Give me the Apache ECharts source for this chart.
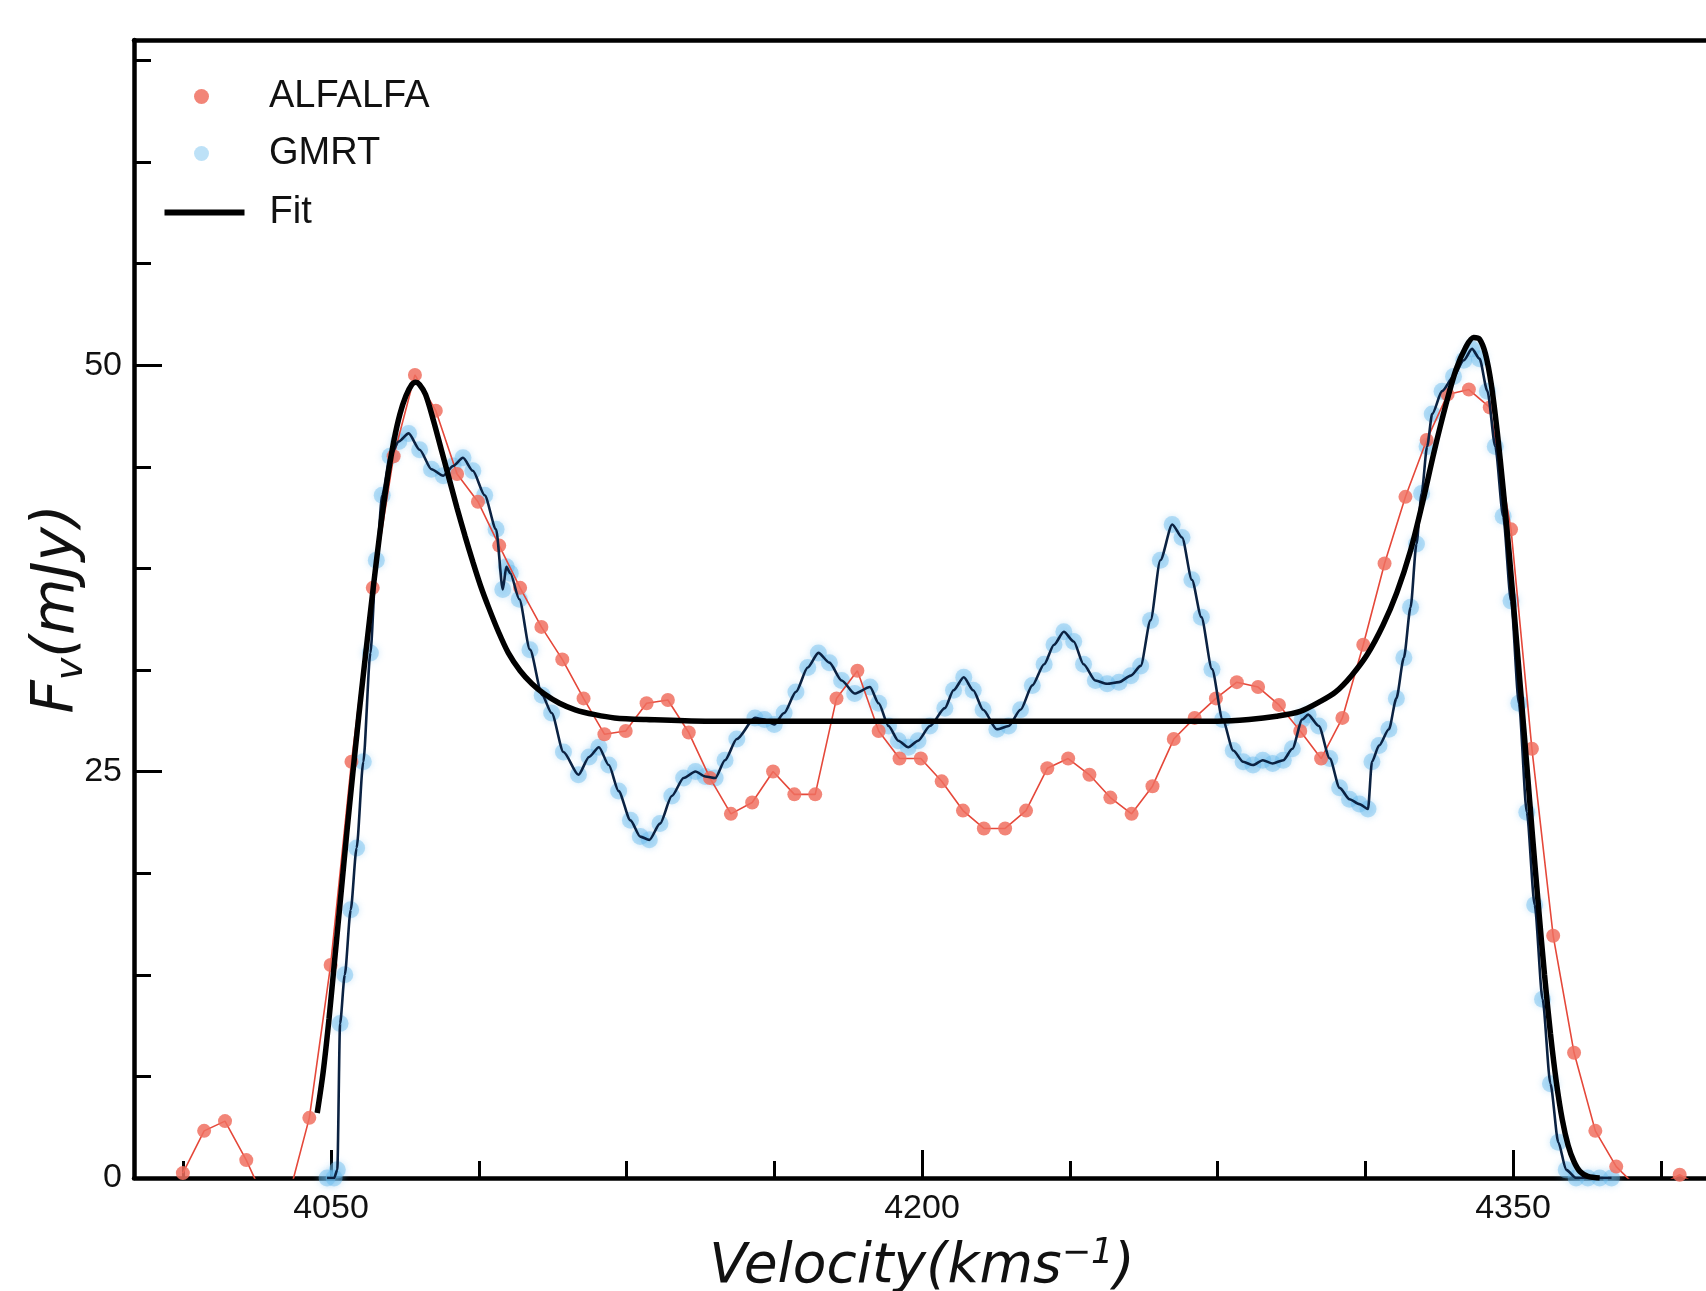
<!DOCTYPE html>
<html>
<head>
<meta charset="utf-8">
<script src="https://cdn.jsdelivr.net/npm/echarts@6/dist/echarts.min.js"></script>
<style>
html,body{margin:0;padding:0;background:#fff;overflow:hidden}
#c{width:1706px;height:1291px}
</style>
</head>
<body>
<div id="c"></div>
<script>
// ---- ALFALFA spectrum (km/s, mJy) ----
const alfalfaVel = [4012.4, 4017.8, 4023.1, 4028.5, 4033.8, 4039.2, 4044.5, 4049.9, 4055.2, 4060.6,
  4065.9, 4071.3, 4076.6, 4082.0, 4087.3, 4092.7, 4098.0, 4103.4, 4108.7, 4114.1,
  4119.4, 4124.8, 4130.1, 4135.5, 4140.8, 4146.2, 4151.5, 4156.9, 4162.2, 4167.6,
  4172.9, 4178.3, 4183.6, 4189.0, 4194.3, 4199.7, 4205.0, 4210.4, 4215.7, 4221.1,
  4226.4, 4231.8, 4237.1, 4242.5, 4247.8, 4253.2, 4258.5, 4263.9, 4269.2, 4274.6,
  4279.9, 4285.3, 4290.6, 4296.0, 4301.3, 4306.7, 4312.0, 4317.4, 4322.7, 4328.1,
  4333.4, 4338.8, 4344.1, 4349.5, 4354.8, 4360.2, 4365.5, 4370.9, 4376.2, 4381.6,
  4386.9, 4392.3, 4397.6];
const alfalfaFlux = [0.3, 2.9, 3.5, 1.1, -1.7, -1.2, 3.7, 13.1, 25.6, 36.3,
  44.4, 49.4, 47.2, 43.3, 41.6, 38.9, 36.3, 33.9, 31.9, 29.5,
  27.3, 27.5, 29.2, 29.4, 27.4, 24.6, 22.4, 23.1, 25.0, 23.6,
  23.6, 29.5, 31.2, 27.5, 25.8, 25.8, 24.4, 22.6, 21.5, 21.5,
  22.6, 25.2, 25.8, 24.8, 23.4, 22.4, 24.1, 27.0, 28.3, 29.5,
  30.5, 30.2, 29.1, 27.5, 25.8, 28.3, 32.8, 37.8, 41.9, 45.4,
  48.2, 48.5, 47.4, 39.9, 26.4, 14.9, 7.7, 2.9, 0.7, -0.6,
  -0.5, 0.2, -0.5];

// ---- GMRT spectrum ----
const gmrtVel = [4049.0, 4050.8, 4051.6, 4052.3, 4053.5, 4055.0, 4056.5, 4058.2, 4060.0, 4061.5,
  4063.0, 4065.0, 4067.2, 4069.7, 4072.5, 4075.5, 4078.5, 4081.0, 4083.5, 4086.0,
  4089.0, 4091.9, 4093.6, 4094.5, 4095.5, 4097.8, 4100.5, 4103.6, 4106.0, 4109.0,
  4112.8, 4115.5, 4118.0, 4120.5, 4123.0, 4126.0, 4128.5, 4130.8, 4133.5, 4136.5,
  4139.5, 4142.5, 4145.0, 4147.5, 4150.0, 4153.0, 4157.6, 4160.0, 4162.5, 4165.0,
  4168.0, 4171.0, 4173.7, 4176.5, 4179.6, 4182.9, 4186.8, 4189.0, 4191.5, 4194.0,
  4196.5, 4199.0, 4202.0, 4205.8, 4208.0, 4210.6, 4213.0, 4215.5, 4219.0, 4222.0,
  4225.0, 4228.0, 4231.0, 4233.5, 4236.0, 4238.5, 4241.0, 4244.0, 4247.0, 4250.0,
  4253.0, 4255.5, 4258.0, 4260.5, 4263.5, 4266.0, 4268.5, 4270.9, 4273.6, 4276.3,
  4279.0, 4281.5, 4284.0, 4286.5, 4289.0, 4291.7, 4294.0, 4296.5, 4298.0, 4300.7,
  4303.5, 4306.0, 4308.5, 4311.0, 4313.2, 4314.2, 4316.0, 4318.5, 4320.4, 4322.3,
  4324.0, 4325.5, 4326.8, 4328.2, 4329.5, 4332.0, 4334.9, 4337.5, 4339.6, 4341.5,
  4343.5, 4345.5, 4347.5, 4349.5, 4351.5, 4353.5, 4355.5, 4357.5, 4359.5, 4361.5,
  4363.5, 4366.0, 4369.0, 4372.0, 4375.0];
const gmrtFlux = [0, 0, 0.5, 9.5, 12.5, 16.5, 20.3, 25.6, 32.3, 38.0,
  42.0, 44.4, 45.3, 45.8, 44.8, 43.6, 43.2, 43.8, 44.3, 43.5,
  42.0, 39.9, 36.2, 37.6, 37.2, 35.6, 32.5, 29.7, 28.6, 26.2,
  24.8, 25.9, 26.5, 25.4, 23.8, 22.0, 21.0, 20.8, 21.8, 23.5,
  24.6, 25.0, 24.7, 24.6, 25.7, 27.0, 28.3, 28.2, 27.9, 28.6,
  29.9, 31.4, 32.3, 31.7, 30.6, 29.8, 30.2, 29.2, 27.8, 26.9,
  26.5, 26.9, 27.8, 28.9, 30.0, 30.8, 30.0, 28.8, 27.6, 27.8,
  28.8, 30.3, 31.6, 32.8, 33.6, 33.0, 31.6, 30.6, 30.4, 30.5,
  30.9, 31.5, 34.3, 38.0, 40.2, 39.4, 36.8, 34.5, 31.3, 28.2,
  26.3, 25.6, 25.4, 25.7, 25.5, 25.7, 26.4, 28.2, 28.5, 27.8,
  25.8, 24.0, 23.3, 23.0, 22.7, 25.6, 26.6, 27.6, 29.5, 32.0,
  35.1, 39.0, 42.1, 45.0, 47.0, 48.4, 49.3, 50.3, 51.0, 50.4,
  48.4, 45.0, 40.7, 35.5, 29.2, 22.5, 16.8, 11.0, 5.8, 2.2,
  0.5, 0, 0, 0, 0];

// ---- Fit profile ----
const fitVel = [4046.5, 4048.0, 4049.5, 4051.0, 4052.5, 4054.0, 4055.5, 4057.0, 4058.5, 4060.0,
  4061.5, 4063.0, 4064.5, 4066.0, 4067.5, 4069.0, 4070.5, 4071.5, 4072.5, 4074.0,
  4076.0, 4078.0, 4080.0, 4082.0, 4084.0, 4086.0, 4088.0, 4090.0, 4092.5, 4095.0,
  4098.0, 4101.0, 4104.0, 4108.0, 4112.0, 4117.0, 4122.0, 4130.0, 4145.0,
  4200.0, 4260.0, 4275.0, 4283.0, 4290.0, 4296.0, 4301.0, 4305.0, 4309.0, 4313.0,
  4317.0, 4320.5, 4324.0, 4327.0, 4330.0, 4333.0, 4335.5, 4338.0, 4340.0, 4341.5,
  4343.0, 4344.5, 4346.0, 4347.5, 4349.0, 4350.5, 4352.0, 4353.5, 4355.0, 4356.5,
  4358.0, 4359.5, 4361.0, 4362.5, 4364.0, 4365.5, 4367.0, 4369.0, 4372.0];
const fitFlux = [4.0, 6.5, 9.8, 13.6, 17.4, 21.2, 24.8, 28.3, 31.6, 34.8,
  37.9, 40.8, 43.3, 45.4, 47.0, 48.1, 48.8, 48.95, 48.8, 48.2,
  46.6, 44.8, 43.0, 41.2, 39.5, 37.9, 36.4, 35.1, 33.6, 32.3,
  31.2, 30.4, 29.8, 29.2, 28.8, 28.5, 28.3, 28.2, 28.1,
  28.1, 28.1, 28.1, 28.2, 28.4, 28.7, 29.3, 29.9, 30.9, 32.2,
  34.0, 36.0, 38.6, 41.5, 44.7, 47.6, 49.7, 51.1, 51.7, 51.6,
  50.7, 48.8, 45.9, 42.4, 38.5, 34.2, 29.8, 25.4, 20.9, 16.6,
  12.5, 8.9, 5.9, 3.6, 2.0, 1.0, 0.4, 0.1, 0.0];

// ---- ticks ----
const xMajorTicks = [4050, 4200, 4350];
const xMinorTicks = [4012.5, 4087.5, 4125, 4162.5, 4237.5, 4275, 4312.5, 4387.5];
const yMajorTicks = [0, 25, 50];
const yMinorTicks = [6.25, 12.5, 18.75, 31.25, 37.5, 43.75, 56.25, 62.5, 68.75];

const zip = (a, b) => a.map((v, i) => [v, b[i]]);
const tickFont = 'Liberation Sans, Arial, sans-serif';
const titleFont = 'DejaVu Sans';
const axisColor = '#000';
const plain = (v) => String(v);

const chart = echarts.init(document.getElementById('c'), null, {renderer: 'canvas', width: 1706, height: 1291});

const baseX = {type: 'value', min: 4000, max: 4400, gridIndex: 0, splitLine: {show: false}};
const baseY = {type: 'value', min: 0, max: 70, gridIndex: 0, splitLine: {show: false}};
const legendText = {fontFamily: tickFont, fontSize: 38, color: '#111'};

const option = {
  animation: false,
  backgroundColor: '#fff',
  grid: {left: 134, top: 40, width: 1576, height: 1138, containLabel: false, outerBoundsMode: 'none'},
  legend: [
    {
      left: 189, top: 72.5, orient: 'vertical', itemWidth: 15, itemHeight: 15, itemGap: 19,
      selectedMode: false,
      data: [{name: 'ALFALFA', icon: 'circle'}, {name: 'GMRT', icon: 'circle'}],
      formatter: (name) => '{g|}' + name,
      textStyle: Object.assign({rich: {g: {width: 55}}}, legendText)
    },
    {
      left: 159.5, top: 188.5, orient: 'vertical', itemWidth: 80, itemHeight: 6,
      selectedMode: false,
      data: [{name: 'Fit', icon: 'rect'}],
      formatter: (name) => '{g|}' + name,
      textStyle: Object.assign({rich: {g: {width: 20}}}, legendText)
    }
  ],
  xAxis: [
    Object.assign({}, baseX, {
      position: 'bottom',
      axisLine: {show: true, onZero: false, lineStyle: {color: axisColor, width: 4.5}},
      axisTick: {show: true, inside: true, length: 28, customValues: xMajorTicks, lineStyle: {color: axisColor, width: 3}},
      axisLabel: {show: true, customValues: xMajorTicks, formatter: plain, margin: 14, fontSize: 34, fontFamily: tickFont, color: '#111'},
      name: '{i|Velocity(kms}{s|\u22121}{i|)}',
      nameLocation: 'middle', nameGap: 58,
      nameTextStyle: {
        rich: {
          i: {fontFamily: titleFont, fontStyle: 'italic', fontSize: 55, color: '#111', lineHeight: 64},
          s: {fontFamily: titleFont, fontStyle: 'italic', fontSize: 35, color: '#111', lineHeight: 40, verticalAlign: 'top'}
        }
      }
    }),
    Object.assign({}, baseX, {
      position: 'bottom',
      axisLine: {show: false},
      axisTick: {show: true, inside: true, length: 17, customValues: xMinorTicks, lineStyle: {color: axisColor, width: 3}},
      axisLabel: {show: false}
    }),
    Object.assign({}, baseX, {
      position: 'top',
      axisLine: {show: true, onZero: false, lineStyle: {color: axisColor, width: 4.5}},
      axisTick: {show: false},
      axisLabel: {show: false}
    })
  ],
  yAxis: [
    Object.assign({}, baseY, {
      position: 'left',
      axisLine: {show: true, onZero: false, lineStyle: {color: axisColor, width: 4.5}},
      axisTick: {show: true, inside: true, length: 28, customValues: yMajorTicks, lineStyle: {color: axisColor, width: 3}},
      axisLabel: {show: true, customValues: yMajorTicks, formatter: plain, margin: 12, fontSize: 34, fontFamily: tickFont, color: '#111'},
      name: '{i|F}{b|v}{i|(mJy)}',
      nameLocation: 'middle', nameGap: 43, nameMoveOverlap: false,
      nameTextStyle: {
        rich: {
          i: {fontFamily: titleFont, fontStyle: 'italic', fontSize: 58, color: '#111', lineHeight: 66},
          b: {fontFamily: titleFont, fontStyle: 'italic', fontSize: 38, color: '#111', lineHeight: 40, verticalAlign: 'bottom'}
        }
      }
    }),
    Object.assign({}, baseY, {
      position: 'left',
      axisLine: {show: false},
      axisTick: {show: true, inside: true, length: 17, customValues: yMinorTicks, lineStyle: {color: axisColor, width: 3}},
      axisLabel: {show: false}
    })
  ],
  series: [
    {
      name: 'GMRT', type: 'scatter', xAxisIndex: 0, yAxisIndex: 0,
      data: zip(gmrtVel, gmrtFlux), symbol: 'circle', symbolSize: 17,
      itemStyle: {color: 'rgba(105,186,236,0.55)', shadowBlur: 7, shadowColor: 'rgba(105,186,236,0.75)'},
      z: 2, silent: true, clip: true
    },
    {
      name: 'ALFALFA', type: 'line', xAxisIndex: 0, yAxisIndex: 0,
      data: zip(alfalfaVel, alfalfaFlux), symbol: 'circle', symbolSize: 14, showSymbol: true,
      itemStyle: {color: 'rgba(240,112,96,0.85)'},
      lineStyle: {color: '#E5483A', width: 1.6}, z: 3, silent: true, clip: true
    },
    {
      name: 'GMRT line', type: 'line', xAxisIndex: 0, yAxisIndex: 0,
      data: zip(gmrtVel, gmrtFlux), symbol: 'none', smooth: 0.25, smoothMonotone: 'x',
      itemStyle: {color: '#0B2242'},
      lineStyle: {color: '#0B2242', width: 2.6}, z: 4, silent: true, clip: true
    },
    {
      name: 'Fit', type: 'line', xAxisIndex: 0, yAxisIndex: 0,
      data: zip(fitVel, fitFlux), symbol: 'none', smooth: 0.3,
      itemStyle: {color: '#000'},
      lineStyle: {color: '#000', width: 5.5}, z: 5, silent: true, clip: true
    }
  ]
};
chart.setOption(option);
</script>
</body>
</html>
